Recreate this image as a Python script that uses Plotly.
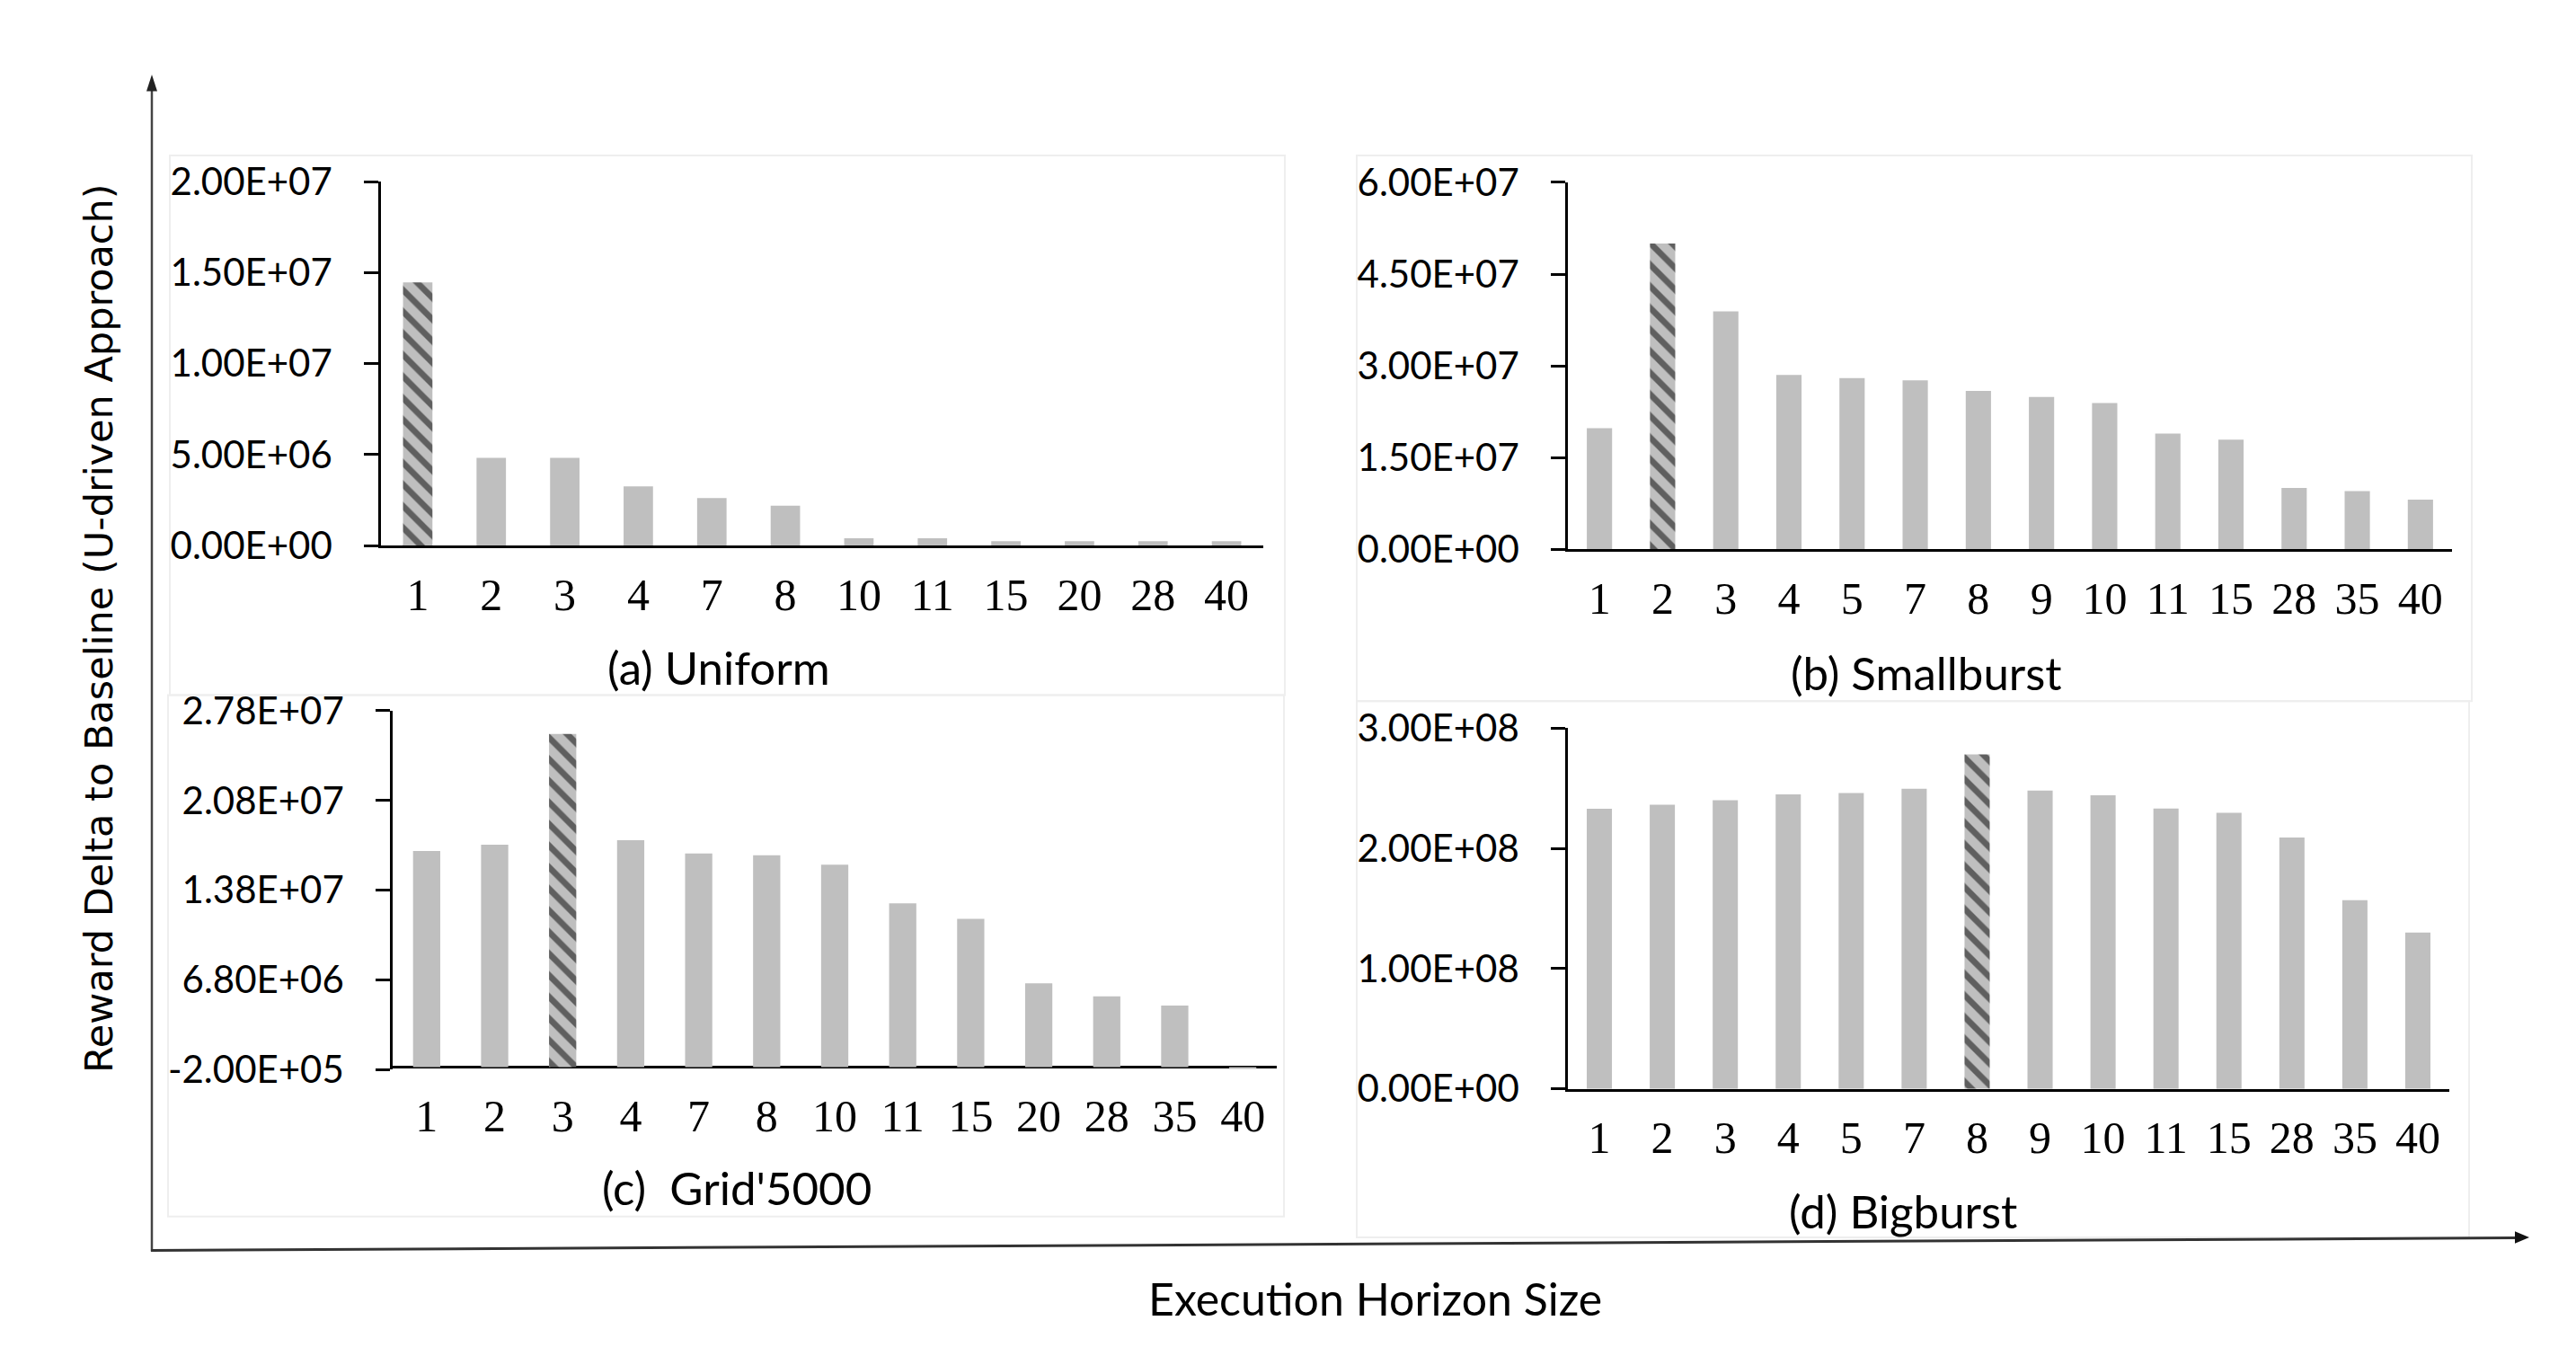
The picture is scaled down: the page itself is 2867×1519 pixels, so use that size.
import plotly.graph_objects as go

W, H = 2867, 1519

# ---------------- data ----------------
cats_a = ["1", "2", "3", "4", "7", "8", "10", "11", "15", "20", "28", "40"]
vals_a = [1.446e7, 4.82e6, 4.82e6, 3.26e6, 2.62e6, 2.19e6, 4.0e5, 4.0e5, 2.4e5, 2.4e5, 2.4e5, 2.4e5]
best_a = "1"
ytick_a = [0, 5e6, 1e7, 1.5e7, 2e7]
ytext_a = ["0.00E+00", "5.00E+06", "1.00E+07", "1.50E+07", "2.00E+07"]

cats_b = ["1", "2", "3", "4", "5", "7", "8", "9", "10", "11", "15", "28", "35", "40"]
vals_b = [1.98e7, 5.00e7, 3.89e7, 2.85e7, 2.80e7, 2.76e7, 2.59e7, 2.49e7, 2.39e7, 1.89e7, 1.79e7, 1.00e7, 9.5e6, 8.1e6]
best_b = "2"
ytick_b = [0, 1.5e7, 3e7, 4.5e7, 6e7]
ytext_b = ["0.00E+00", "1.50E+07", "3.00E+07", "4.50E+07", "6.00E+07"]

cats_c = ["1", "2", "3", "4", "7", "8", "10", "11", "15", "20", "28", "35", "40"]
vals_c = [1.686e7, 1.735e7, 2.60e7, 1.771e7, 1.667e7, 1.653e7, 1.580e7, 1.278e7, 1.157e7, 6.54e6, 5.53e6, 4.80e6, -1.4e5]
best_c = "3"
ytick_c = [-2e5, 6.8e6, 1.38e7, 2.08e7, 2.78e7]
ytext_c = ["-2.00E+05", "6.80E+06", "1.38E+07", "2.08E+07", "2.78E+07"]

cats_d = ["1", "2", "3", "4", "5", "7", "8", "9", "10", "11", "15", "28", "35", "40"]
vals_d = [2.33e8, 2.364e8, 2.40e8, 2.45e8, 2.46e8, 2.496e8, 2.782e8, 2.481e8, 2.442e8, 2.331e8, 2.295e8, 2.091e8, 1.568e8, 1.30e8]
best_d = "8"
ytick_d = [0, 1e8, 2e8, 3e8]
ytext_d = ["0.00E+00", "1.00E+08", "2.00E+08", "3.00E+08"]

titles = ["(a) Uniform", "(b) Smallburst", "(c)  Grid'5000", "(d) Bigburst"]
y_title = "Reward Delta to Baseline (U-driven Approach)"
x_title = "Execution Horizon Size"

# ---------------- style ----------------
GRAY = "#bfbfbf"
CAL = "Lato, 'Open Sans', sans-serif"
SERIF = "'Liberation Serif', 'Times New Roman', serif"


def px(x):
    return x / W


def py(y):
    return 1 - y / H


panels = [
    dict(cats=cats_a, vals=vals_a, best=best_a, tv=ytick_a, tt=ytext_a, rng=[0, 2e7],
         xd=[424, 1406], yd=[182, 601], zero=False, stand=9),
    dict(cats=cats_b, vals=vals_b, best=best_b, tv=ytick_b, tt=ytext_b, rng=[0, 6e7],
         xd=[1745, 2729], yd=[183, 605], zero=False, stand=9),
    dict(cats=cats_c, vals=vals_c, best=best_c, tv=ytick_c, tt=ytext_c, rng=[-2e5, 2.78e7],
         xd=[437, 1421], yd=[791, 1204], zero=True, stand=18),
    dict(cats=cats_d, vals=vals_d, best=best_d, tv=ytick_d, tt=ytext_d, rng=[0, 3e8],
         xd=[1745, 2726], yd=[811, 1226], zero=False, stand=9),
]

fig = go.Figure()
layout = dict(
    width=W, height=H, margin=dict(l=0, r=0, t=0, b=0),
    paper_bgcolor="white", plot_bgcolor="rgba(0,0,0,0)",
    showlegend=False, bargap=0.6,
)

for i, p in enumerate(panels):
    n = "" if i == 0 else str(i + 1)
    shapes = ["\\" if c == p["best"] else "" for c in p["cats"]]
    fig.add_trace(go.Bar(
        x=p["cats"], y=p["vals"], xaxis="x" + n, yaxis="y" + n,
        marker=dict(color=GRAY, line=dict(width=0),
                    pattern=dict(shape=shapes, fgcolor="black", bgcolor=GRAY,
                                 size=17, solidity=0.4)),
        hoverinfo="skip",
    ))
    layout["xaxis" + n] = dict(
        domain=[px(p["xd"][0]), px(p["xd"][1])], anchor="y" + n, type="category",
        showline=not p["zero"], linecolor="black", linewidth=2.5,
        ticks="", showgrid=False, zeroline=False,
        tickfont=dict(family=SERIF, size=50, color="black"),
        ticklabelstandoff=p["stand"], fixedrange=True,
    )
    layout["yaxis" + n] = dict(
        domain=[py(p["yd"][1]), py(p["yd"][0])], anchor="x" + n, range=p["rng"],
        tickvals=p["tv"], ticktext=p["tt"],
        showline=True, linecolor="black", linewidth=2.5,
        ticks="outside", ticklen=16, tickwidth=2.5, tickcolor="black",
        showgrid=False, zeroline=p["zero"], zerolinecolor="black", zerolinewidth=2.5,
        tickfont=dict(family=CAL, size=42, color="black"),
        ticklabelstandoff=27, fixedrange=True,
    )

# faint panel frames
frames = [(189, 152, 1430, 773), (187, 773, 1429, 1373), (1510, 152, 2751, 780), (1510, 780, 2748, 1397)]
shp = []
for (x0, y0, x1, y1) in frames:
    shp.append(dict(type="rect", xref="paper", yref="paper", x0=px(x0), x1=px(x1),
                    y0=py(y1), y1=py(y0), line=dict(color="#eeeeee", width=2), layer="below"))

# outer axis lines with arrowheads
shp.append(dict(type="line", xref="paper", yref="paper", x0=px(169), x1=px(169),
                y0=py(1413), y1=py(72), line=dict(color="#444444", width=2.5)))
shp.append(dict(type="path", xref="paper", yref="paper",
                path="M %f,%f L %f,%f L %f,%f Z" % (px(169), py(59), px(163), py(78), px(175), py(78)),
                fillcolor="#222222", line=dict(width=0)))
shp.append(dict(type="line", xref="paper", yref="paper", x0=px(168), x1=px(2802),
                y0=py(1412), y1=py(1397.5), line=dict(color="#333333", width=3)))
shp.append(dict(type="path", xref="paper", yref="paper",
                path="M %f,%f L %f,%f L %f,%f Z" % (px(2815), py(1397), px(2799), py(1390), px(2799), py(1404)),
                fillcolor="#111111", line=dict(width=0)))
layout["shapes"] = shp

ann = []
# panel titles
tpos = [(800, 741), (2144, 747), (820, 1340), (2118, 1366)]
for t, (x, y) in zip(titles, tpos):
    ann.append(dict(x=px(x), y=py(y), xref="paper", yref="paper", text=t, showarrow=False,
                    xanchor="center", yanchor="middle",
                    font=dict(family=CAL, size=51, color="black")))
ann.append(dict(x=px(110), y=py(696), xref="paper", yref="paper", text=y_title, showarrow=False,
                textangle=-90, xanchor="center", yanchor="middle",
                font=dict(family="'DejaVu Sans', Verdana, sans-serif", size=43, color="black")))
ann.append(dict(x=px(1530), y=py(1467), xref="paper", yref="paper", text=x_title, showarrow=False,
                xanchor="center", yanchor="middle",
                font=dict(family=CAL, size=50, color="black")))
layout["annotations"] = ann

fig.update_layout(**layout)
fig.write_html("out.html", config={"displayModeBar": False},
               post_script="document.body.style.margin='0';")
